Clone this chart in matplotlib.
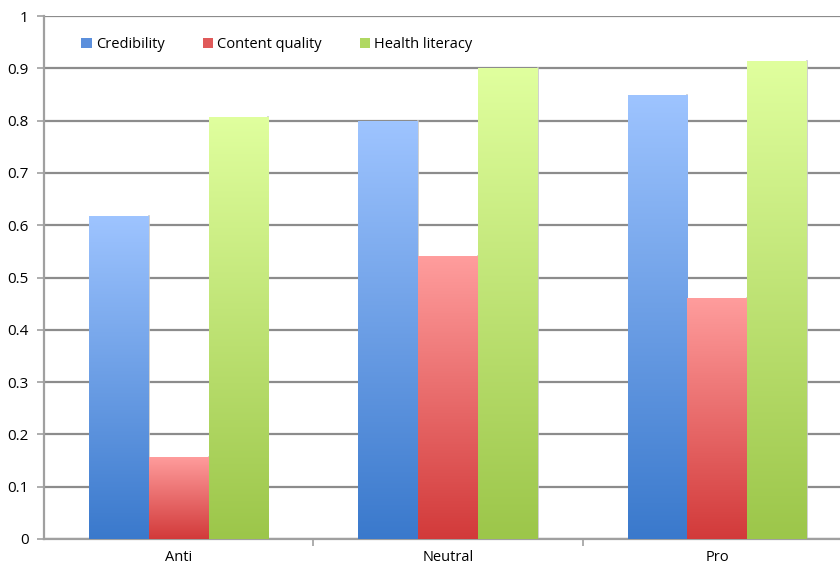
import numpy as np
import matplotlib
matplotlib.use('Agg')
import matplotlib.pyplot as plt
from matplotlib.colors import LinearSegmentedColormap
from matplotlib.patches import Rectangle

plt.rcParams['font.family'] = ['Open Sans', 'DejaVu Sans']

categories = ['Anti', 'Neutral', 'Pro']
series = ['Credibility', 'Content quality', 'Health literacy']
credibility = [0.617, 0.799, 0.849]
content_quality = [0.157, 0.541, 0.461]
health_literacy = [0.807, 0.900, 0.914]
values = [credibility, content_quality, health_literacy]

# gradient per series: (top colour, bottom colour)
grads = [('#9ec4ff', '#3a79cc'),
         ('#ff9d9d', '#d23a3a'),
         ('#e0ff9e', '#9cc64a')]
swatch = ['#5b8fdc', '#e05a5a', '#b0d862']

fig = plt.figure(figsize=(8.4, 5.67), dpi=100)
ax = fig.add_axes([44 / 840, 28 / 567, 808 / 840, 523 / 567])

bw = 0.222
x = np.arange(len(categories))
ramp = np.linspace(0, 1, 256).reshape(-1, 1)

for si, vals in enumerate(values):
    cmap = LinearSegmentedColormap.from_list('g%d' % si, [grads[si][1], grads[si][0]])
    for ci, v in enumerate(vals):
        x0 = x[ci] + (si - 1) * bw - bw / 2
        im = ax.imshow(ramp, cmap=cmap, origin='lower', aspect='auto',
                       extent=[x0, x0 + bw, 0, v], zorder=3)
        rect = Rectangle((x0, 0), bw, v, facecolor='none', edgecolor='none')
        ax.add_patch(rect)
        im.set_clip_path(rect)
        # faint shadow on the bar's right edge
        ax.plot([x0 + bw, x0 + bw], [0, v], color='#c8c8c8', lw=1.2, zorder=2.5)

ax.set_xlim(-0.5, 2.5)
ax.set_ylim(0, 1)
ax.set_yticks(np.arange(0, 1.01, 0.1))
ax.set_yticklabels(['0', '0.1', '0.2', '0.3', '0.4', '0.5', '0.6', '0.7', '0.8', '0.9', '1'])
ax.set_xticks(x)
ax.set_xticklabels(categories)
ax.set_xticks([0.5, 1.5], minor=True)

ax.yaxis.grid(True, color='#8c8c8c', lw=1.6, zorder=1)
ax.set_axisbelow(True)
for s in ['top', 'right']:
    ax.spines[s].set_visible(False)
ax.spines['left'].set_color('#a0a0a0')
ax.spines['left'].set_linewidth(1.6)
ax.spines['bottom'].set_color('#a0a0a0')
ax.spines['bottom'].set_linewidth(1.6)
ax.tick_params(axis='y', length=5, width=1.2, color='#a0a0a0', labelsize=11, pad=6)
ax.tick_params(axis='x', which='major', length=0, labelsize=10.5, pad=8)
ax.tick_params(axis='x', which='minor', length=5, width=1.2, color='#a0a0a0')

handles = [Rectangle((0, 0), 1, 1, facecolor=c, edgecolor='none') for c in swatch]
ax.legend(handles, series, loc='upper left', bbox_to_anchor=(0.03, 0.985), ncol=3,
          frameon=False, fontsize=10.5, handlelength=0.7, handleheight=0.7,
          handletextpad=0.3, columnspacing=2.6)

fig.savefig('out.png', dpi=100)
